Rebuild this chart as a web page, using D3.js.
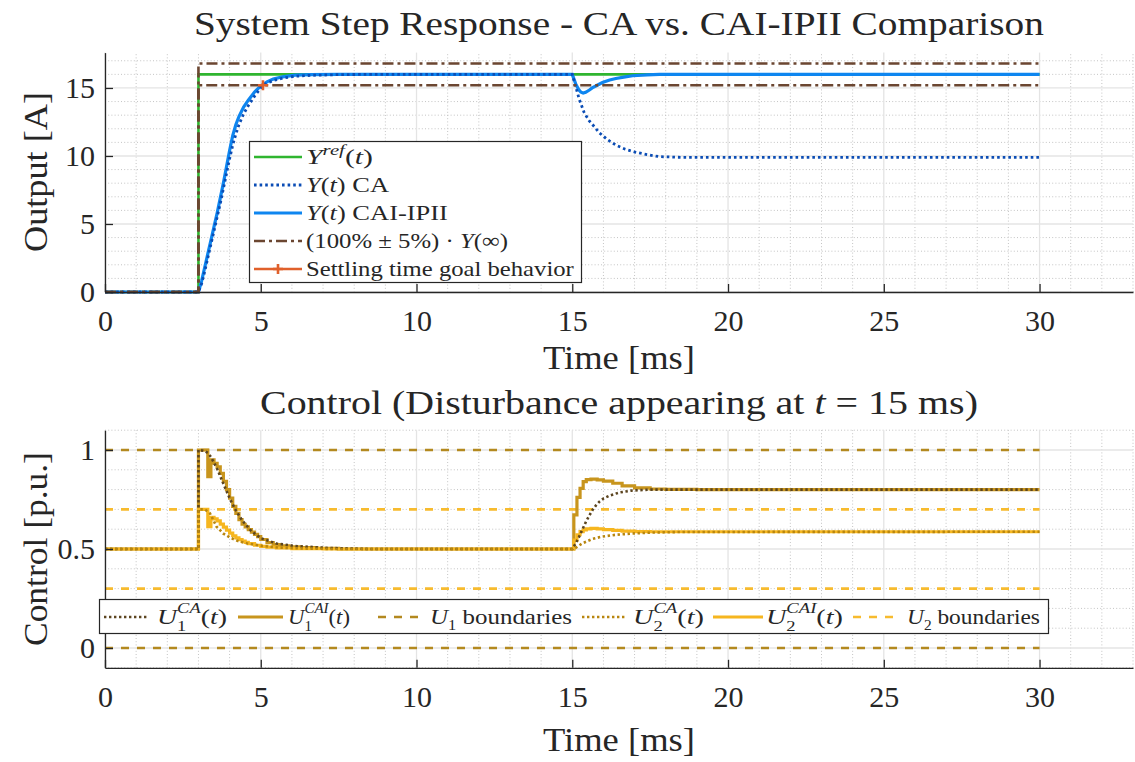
<!DOCTYPE html>
<html><head><meta charset="utf-8">
<script src="https://cdn.jsdelivr.net/npm/d3@7"></script>
<style>
body{margin:0;background:#fff}
svg{display:block}
text{font-family:"Liberation Serif","Times New Roman",serif;fill:#262626;white-space:pre}
</style>
</head><body>
<svg id="c" width="1135" height="762"></svg>
<script>
// ---------------- DATA ----------------
const xTicks = [0, 5, 10, 15, 20, 25, 30];
const yTicksTop = [0, 5, 10, 15];
const yTicksBottom = [0, 0.5, 1];
const yTickLabelsBottom = ["0", "0.5", "1"];

// Top panel: output current [A]
const timeRef = [0, 3, 3, 30];
const yRef = [0, 0, 16, 16];
const yUpper = [0, 0, 16.8, 16.8];
const yLower = [0, 0, 15.2, 15.2];

const timeCAI = [0, 3.0, 3.1, 3.2, 3.3, 3.4, 3.5, 3.6, 3.7, 3.8, 3.9, 4.0, 4.1, 4.2, 4.3, 4.45, 4.6, 4.8, 5.0, 5.2, 5.4, 5.7, 6.1, 6.6, 7.5, 15.0, 15.11, 15.2, 15.27, 15.35, 15.43, 15.55, 15.64, 15.8, 15.97, 16.2, 16.4, 16.7, 16.94, 17.4, 17.8, 30];
const yCAI = [0, 0, 0.8, 1.8, 2.8, 3.8, 4.8, 5.8, 6.9, 8.0, 9.2, 10.4, 11.5, 12.3, 12.9, 13.6, 14.1, 14.7, 15.15, 15.45, 15.65, 15.82, 15.95, 15.98, 16, 16, 15.3, 14.9, 14.7, 14.62, 14.68, 14.85, 15.0, 15.2, 15.4, 15.58, 15.7, 15.82, 15.9, 15.96, 16, 16];

const timeCA = [0, 3.0, 3.1, 3.2, 3.3, 3.4, 3.5, 3.6, 3.7, 3.8, 3.9, 4.0, 4.1, 4.2, 4.3, 4.45, 4.6, 4.8, 5.07, 5.2, 5.4, 5.7, 6.1, 6.6, 7.5, 8.5, 15.0, 15.11, 15.22, 15.38, 15.54, 15.71, 15.87, 16.13, 16.4, 16.7, 16.99, 17.4, 17.79, 18.5, 19.07, 30];
const yCA = [0, 0, 0.6, 1.5, 2.5, 3.5, 4.5, 5.5, 6.5, 7.6, 8.7, 9.8, 10.8, 11.6, 12.3, 13.1, 13.7, 14.4, 15.2, 15.35, 15.55, 15.72, 15.86, 15.93, 15.98, 16, 16, 15.1, 14.2, 13.2, 12.6, 12.15, 11.7, 11.2, 10.8, 10.5, 10.3, 10.1, 9.95, 9.9, 9.9, 9.9];

const settleT = [5.07];
const settleY = [15.2];

// Bottom panel: control [p.u.]
const timeBound = [0, 30];
const u1Upper = [1, 1];
const u1Lower = [0, 0];
const u2Upper = [0.7, 0.7];
const u2Lower = [0.3, 0.3];

const tU1CAI = [0, 3.0, 3.3, 3.4, 3.5, 3.6, 3.7, 3.8, 3.9, 4.0, 4.1, 4.2, 4.3, 4.4, 4.5, 4.6, 4.7, 4.8, 4.9, 5.0, 5.2, 5.4, 5.6, 5.9, 6.3, 6.8, 7.5, 15.05, 15.15, 15.25, 15.35, 15.45, 15.6, 15.8, 16.0, 16.3, 16.6, 17.0, 17.5, 18.0, 19.0, 30];
const u1CAI = [0.5, 1.0, 0.865, 0.95, 0.933, 0.915, 0.882, 0.842, 0.80, 0.757, 0.715, 0.68, 0.648, 0.625, 0.612, 0.598, 0.585, 0.574, 0.562, 0.548, 0.532, 0.522, 0.516, 0.511, 0.507, 0.503, 0.5, 0.672, 0.761, 0.806, 0.84, 0.85, 0.853, 0.849, 0.843, 0.832, 0.819, 0.809, 0.803, 0.801, 0.8, 0.8];

const tU1CA = [0, 3.0, 3.0, 3.2, 3.3, 3.4, 3.5, 3.6, 3.8, 4.0, 4.2, 4.4, 4.7, 5.0, 5.5, 6.1, 7.2, 8.5, 15.0, 15.1, 15.22, 15.33, 15.44, 15.55, 15.65, 15.76, 15.87, 16.0, 16.2, 16.5, 16.9, 17.5, 18.5, 30];
const u1CA = [0.5, 0.5, 1.0, 0.995, 0.985, 0.965, 0.935, 0.905, 0.83, 0.756, 0.695, 0.645, 0.59, 0.555, 0.528, 0.515, 0.505, 0.5, 0.5, 0.525, 0.562, 0.6, 0.638, 0.67, 0.697, 0.72, 0.739, 0.755, 0.77, 0.785, 0.795, 0.8, 0.8, 0.8];

const tU2CAI = [0, 3.0, 3.3, 3.4, 3.5, 3.6, 3.7, 3.8, 3.9, 4.0, 4.1, 4.2, 4.3, 4.4, 4.5, 4.6, 4.8, 5.0, 5.2, 5.5, 6.0, 7.0, 15.05, 15.15, 15.25, 15.35, 15.45, 15.6, 15.8, 16.0, 16.3, 16.6, 17.0, 17.5, 30];
const u2CAI = [0.5, 0.7, 0.613, 0.66, 0.652, 0.642, 0.626, 0.61, 0.595, 0.58, 0.567, 0.556, 0.547, 0.54, 0.533, 0.527, 0.519, 0.513, 0.509, 0.505, 0.502, 0.5, 0.545, 0.572, 0.588, 0.597, 0.602, 0.604, 0.602, 0.598, 0.594, 0.59, 0.588, 0.587, 0.587];

const tU2CA = [0, 3.0, 3.0, 3.2, 3.37, 3.58, 3.79, 4.0, 4.27, 4.54, 5.07, 5.6, 6.5, 7.5, 15.0, 15.1, 15.33, 15.65, 15.97, 16.4, 16.93, 17.5, 18.5, 30];
const u2CA = [0.5, 0.5, 0.7, 0.7, 0.68, 0.613, 0.579, 0.559, 0.54, 0.529, 0.515, 0.507, 0.502, 0.5, 0.5, 0.505, 0.529, 0.551, 0.563, 0.572, 0.578, 0.583, 0.586, 0.587];

// ---------------- STYLE ----------------
const C = {
  green: "#2fb52f", caBlue: "#0b4db5", caiBlue: "#0e86f0", brown: "#6b4631", orange: "#e0602b",
  u1ca: "#5c4520", u1cai: "#c8951d", u1b: "#b3891f", u2ca: "#b8860f", u2cai: "#f6b61f", u2b: "#f7bb2e",
  axis: "#262626", grid: "#e4e4e4", minor: "#c4c4c4"
};
const FAMILY = '"Liberation Serif","Times New Roman",serif';

const svg = d3.select("#c");
const measurer = svg.append("text").attr("x", -2000).attr("y", -2000);
function measure(s, size, italic) {
  measurer.attr("font-size", size).attr("font-style", italic ? "italic" : "normal").text(s);
  return measurer.node().getComputedTextLength();
}
// rich text with italic / super / subscripts, optionally stretched to a target width
function rich(parent, pieces, size, opts) {
  const g = parent.append("g");
  const t = g.append("text").attr("font-size", size);
  let cx = 0, prevStart = 0;
  pieces.forEach(p => {
    const sz = size * (p.sc || 1);
    const w = measure(p.s, sz, p.it);
    const x0 = p.stack ? prevStart : cx;
    t.append("tspan").attr("x", x0).attr("y", p.dy || 0).attr("font-size", sz)
      .attr("font-style", p.it ? "italic" : "normal").text(p.s);
    prevStart = x0;
    cx = Math.max(cx, x0 + w);
  });
  const target = opts.width || cx;
  const sx = target / cx;
  const off = opts.anchor === "middle" ? -target / 2 : opts.anchor === "end" ? -target : 0;
  g.attr("transform", `translate(${opts.x},${opts.y}) rotate(${opts.rotate || 0}) translate(${off},0) scale(${sx},1)`);
  return g;
}

// ---------------- SCALES ----------------
const x = d3.scaleLinear().domain([0, 33]).range([105, 1133]);
const yT = d3.scaleLinear().domain([0, 17.6]).range([292, 52.6]);
const yB = d3.scaleLinear().domain([-0.1, 1.1]).range([667.8, 430.2]);

function grid(g, ys, yMinor, yMajor) {
  const [y0, y1] = ys.range();
  const xMinor = d3.range(0, 34).filter(v => v % 5 !== 0);
  g.selectAll(null).data(xMinor).enter().append("line")
    .attr("x1", d => x(d)).attr("x2", d => x(d)).attr("y1", y0).attr("y2", y1)
    .attr("stroke", C.minor).attr("stroke-width", 1).attr("stroke-dasharray", "1,2.2");
  g.selectAll(null).data(yMinor).enter().append("line")
    .attr("y1", d => ys(d)).attr("y2", d => ys(d)).attr("x1", x.range()[0]).attr("x2", x.range()[1])
    .attr("stroke", C.minor).attr("stroke-width", 1).attr("stroke-dasharray", "1,2.2");
  g.selectAll(null).data(xTicks).enter().append("line")
    .attr("x1", d => x(d)).attr("x2", d => x(d)).attr("y1", y0).attr("y2", y1)
    .attr("stroke", C.grid).attr("stroke-width", 1.3);
  g.selectAll(null).data(yMajor).enter().append("line")
    .attr("y1", d => ys(d)).attr("y2", d => ys(d)).attr("x1", x.range()[0]).attr("x2", x.range()[1])
    .attr("stroke", C.grid).attr("stroke-width", 1.3);
}

function series(g, ts, vs, ys, st) {
  const line = d3.line().x(i => x(ts[i])).y(i => ys(vs[i])).curve(st.step ? d3.curveStepAfter : d3.curveLinear);
  g.append("path").attr("d", line(d3.range(ts.length))).attr("fill", "none")
    .attr("stroke", st.c).attr("stroke-width", st.w).attr("stroke-dasharray", st.dash || null)
    .attr("stroke-linejoin", "miter").attr("stroke-linecap", "butt");
}

function axes(g, ys, yVals, yLabels) {
  const ax = d3.axisBottom(x).tickValues(xTicks).tickSizeInner(-8).tickSizeOuter(0).tickPadding(18);
  const ay = d3.axisLeft(ys).tickValues(yVals).tickSizeInner(-8).tickSizeOuter(0).tickPadding(10)
    .tickFormat((d, i) => yLabels ? yLabels[i] : d);
  const gx = g.append("g").attr("transform", `translate(0,${ys.range()[0]})`).call(ax);
  const gy = g.append("g").attr("transform", `translate(${x.range()[0]},0)`).call(ay);
  [gx, gy].forEach(a => {
    a.select(".domain").attr("stroke", C.axis).attr("stroke-width", 1.3);
    a.selectAll(".tick line").attr("stroke", C.axis).attr("stroke-width", 1.3);
    a.selectAll("text").attr("font-size", 30).attr("font-family", FAMILY).attr("fill", C.axis);
  });
}

// ---------------- TOP PANEL ----------------
const topG = svg.append("g");
grid(topG, yT, d3.range(0, 18).filter(v => v % 5 !== 0), yTicksTop);
series(topG, timeRef, yRef, yT, { c: C.green, w: 2.6 });
series(topG, timeCAI, yCAI, yT, { c: C.caiBlue, w: 3.2 });
series(topG, timeCA, yCA, yT, { c: C.caBlue, w: 2.8, dash: "2.6,3" });
series(topG, timeRef, yUpper, yT, { c: C.brown, w: 2.6, dash: "11,4,3,4" });
series(topG, timeRef, yLower, yT, { c: C.brown, w: 2.6, dash: "11,4,3,4" });
topG.selectAll(null).data(d3.range(settleT.length)).enter().append("path")
  .attr("d", i => `M${x(settleT[i]) - 5},${yT(settleY[i])}h10M${x(settleT[i])},${yT(settleY[i]) - 5}v10`)
  .attr("stroke", C.orange).attr("stroke-width", 2.6).attr("fill", "none");
axes(topG, yT, yTicksTop, null);

// titles & labels (top)
rich(svg, [{ s: "System Step Response - CA vs. CAI-IPII Comparison" }], 33, { x: 619, y: 35, anchor: "middle", width: 850 });
rich(svg, [{ s: "Time [ms]" }], 33, { x: 619, y: 369, anchor: "middle", width: 152 });
rich(svg, [{ s: "Output [A]" }], 33, { x: 47, y: 172, anchor: "middle", rotate: -90, width: 160 });

// legend (top)
const lg1 = svg.append("g");
lg1.append("rect").attr("x", 249.5).attr("y", 141.5).attr("width", 332).attr("height", 141)
  .attr("fill", "#fff").attr("stroke", C.axis).attr("stroke-width", 1.2);
const lg1Rows = [
  { y: 157, st: { c: C.green, w: 2.6 }, p: [{ s: "Y", it: 1 }, { s: "ref", it: 1, sc: 0.7, dy: -9 }, { s: "(" }, { s: "t", it: 1 }, { s: ")" }], w: 67 },
  { y: 185, st: { c: C.caBlue, w: 2.8, dash: "2.6,3" }, p: [{ s: "Y", it: 1 }, { s: "(" }, { s: "t", it: 1 }, { s: ") CA" }], w: 83 },
  { y: 213, st: { c: C.caiBlue, w: 3.2 }, p: [{ s: "Y", it: 1 }, { s: "(" }, { s: "t", it: 1 }, { s: ") CAI-IPII" }], w: 142 },
  { y: 241, st: { c: C.brown, w: 2.6, dash: "11,4,3,4" }, p: [{ s: "(100% \u00b1 5%) \u00b7 " }, { s: "Y", it: 1 }, { s: "(\u221e)" }], w: 202 },
  { y: 269, st: { c: C.orange, w: 2.6 }, p: [{ s: "Settling time goal behavior" }], w: 268, plus: true }
];
lg1Rows.forEach(r => {
  lg1.append("line").attr("x1", 254).attr("x2", 302).attr("y1", r.y).attr("y2", r.y)
    .attr("stroke", r.st.c).attr("stroke-width", r.st.w).attr("stroke-dasharray", r.st.dash || null);
  if (r.plus) lg1.append("path").attr("d", `M${278 - 5},${r.y}h10M278,${r.y - 5}v10`).attr("stroke", r.st.c).attr("stroke-width", 2.6);
  rich(lg1, r.p, 22, { x: 306, y: r.y + 7, width: r.w });
});

// ---------------- BOTTOM PANEL ----------------
const botG = svg.append("g");
grid(botG, yB, d3.range(-1, 12).filter(v => v % 5 !== 0).map(v => v / 10), yTicksBottom);
series(botG, timeBound, u1Upper, yB, { c: C.u1b, w: 2.6, dash: "8,8" });
series(botG, timeBound, u1Lower, yB, { c: C.u1b, w: 2.6, dash: "8,8" });
series(botG, timeBound, u2Upper, yB, { c: C.u2b, w: 2.6, dash: "8,8" });
series(botG, timeBound, u2Lower, yB, { c: C.u2b, w: 2.6, dash: "8,8" });
series(botG, tU1CAI, u1CAI, yB, { c: C.u1cai, w: 3.2, step: true });
series(botG, tU2CAI, u2CAI, yB, { c: C.u2cai, w: 3.2, step: true });
series(botG, tU1CA, u1CA, yB, { c: C.u1ca, w: 2.6, dash: "2.4,2.6" });
series(botG, tU2CA, u2CA, yB, { c: C.u2ca, w: 2.6, dash: "2.4,2.6" });
axes(botG, yB, yTicksBottom, yTickLabelsBottom);

rich(svg, [{ s: "Control (Disturbance appearing at " }, { s: "t", it: 1 }, { s: " = 15 ms)" }], 33, { x: 619, y: 414, anchor: "middle", width: 718 });
rich(svg, [{ s: "Time [ms]" }], 33, { x: 619, y: 751, anchor: "middle", width: 152 });
rich(svg, [{ s: "Control [p.u.]" }], 33, { x: 47, y: 549, anchor: "middle", rotate: -90, width: 194 });

// legend (bottom)
const lg2 = svg.append("g");
lg2.append("rect").attr("x", 99.5).attr("y", 599.5).attr("width", 949).attr("height", 34)
  .attr("fill", "#fff").attr("stroke", C.axis).attr("stroke-width", 1.2);
const ly = 617;
const lg2Items = [
  { x1: 104, x2: 149, tx: 157, w: 70, st: { c: C.u1ca, w: 2.6, dash: "2.4,2.6" }, p: [{ s: "U", it: 1 }, { s: "CA", it: 1, sc: 0.66, dy: -11 }, { s: "1", sc: 0.66, dy: 7, stack: 1 }, { s: "(" }, { s: "t", it: 1 }, { s: ")" }] },
  { x1: 238, x2: 283, tx: 288, w: 62, st: { c: C.u1cai, w: 3.2 }, p: [{ s: "U", it: 1 }, { s: "CAI", it: 1, sc: 0.66, dy: -11 }, { s: "1", sc: 0.66, dy: 7, stack: 1 }, { s: "(" }, { s: "t", it: 1 }, { s: ")" }] },
  { x1: 378, x2: 424, tx: 430, w: 142, st: { c: C.u1b, w: 2.6, dash: "8,8" }, p: [{ s: "U", it: 1 }, { s: "1", sc: 0.66, dy: 6 }, { s: " boundaries" }] },
  { x1: 582, x2: 627, tx: 633, w: 71, st: { c: C.u2ca, w: 2.6, dash: "2.4,2.6" }, p: [{ s: "U", it: 1 }, { s: "CA", it: 1, sc: 0.66, dy: -11 }, { s: "2", sc: 0.66, dy: 7, stack: 1 }, { s: "(" }, { s: "t", it: 1 }, { s: ")" }] },
  { x1: 713, x2: 763, tx: 766, w: 77, st: { c: C.u2cai, w: 3.2 }, p: [{ s: "U", it: 1 }, { s: "CAI", it: 1, sc: 0.66, dy: -11 }, { s: "2", sc: 0.66, dy: 7, stack: 1 }, { s: "(" }, { s: "t", it: 1 }, { s: ")" }] },
  { x1: 853, x2: 901, tx: 907, w: 133, st: { c: C.u2b, w: 2.6, dash: "8,8" }, p: [{ s: "U", it: 1 }, { s: "2", sc: 0.66, dy: 6 }, { s: " boundaries" }] }
];
lg2Items.forEach(it => {
  lg2.append("line").attr("x1", it.x1).attr("x2", it.x2).attr("y1", ly).attr("y2", ly)
    .attr("stroke", it.st.c).attr("stroke-width", it.st.w).attr("stroke-dasharray", it.st.dash || null);
  rich(lg2, it.p, 22, { x: it.tx, y: ly + 7, width: it.w });
});
measurer.remove();
</script>
</body></html>
